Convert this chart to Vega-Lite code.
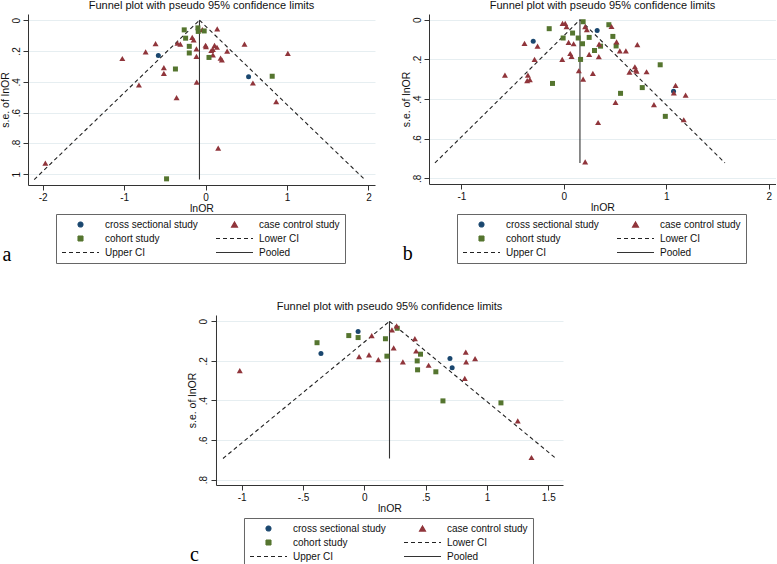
{
  "$schema": "https://vega.github.io/schema/vega-lite/v6.json",
  "background": "white",
  "padding": {"left": 0, "top": 0, "right": 0, "bottom": 0},
  "datasets": {
    "a_pts": [
      {"series": "case control study", "lnOR": 0.143, "se": 0.057},
      {"series": "case control study", "lnOR": -0.04, "se": 0.062},
      {"series": "case control study", "lnOR": -0.614, "se": 0.152},
      {"series": "case control study", "lnOR": -0.345, "se": 0.15},
      {"series": "case control study", "lnOR": -0.31, "se": 0.156},
      {"series": "case control study", "lnOR": -0.164, "se": 0.112},
      {"series": "case control study", "lnOR": -0.146, "se": 0.128},
      {"series": "case control study", "lnOR": -0.112, "se": 0.187},
      {"series": "case control study", "lnOR": -0.112, "se": 0.235},
      {"series": "case control study", "lnOR": 0.0, "se": 0.163},
      {"series": "case control study", "lnOR": 0.005, "se": 0.172},
      {"series": "case control study", "lnOR": 0.11, "se": 0.164},
      {"series": "case control study", "lnOR": 0.14, "se": 0.176},
      {"series": "case control study", "lnOR": 0.09, "se": 0.19},
      {"series": "case control study", "lnOR": 0.07, "se": 0.197},
      {"series": "case control study", "lnOR": 0.09, "se": 0.225},
      {"series": "case control study", "lnOR": 0.184, "se": 0.247},
      {"series": "case control study", "lnOR": 0.2, "se": 0.258},
      {"series": "case control study", "lnOR": 0.265, "se": 0.201},
      {"series": "case control study", "lnOR": 0.478, "se": 0.156},
      {"series": "case control study", "lnOR": 1.01, "se": 0.215},
      {"series": "case control study", "lnOR": -0.736, "se": 0.206},
      {"series": "case control study", "lnOR": -1.022, "se": 0.249},
      {"series": "case control study", "lnOR": -0.512, "se": 0.308},
      {"series": "case control study", "lnOR": -0.512, "se": 0.346},
      {"series": "case control study", "lnOR": -0.818, "se": 0.421},
      {"series": "case control study", "lnOR": -0.109, "se": 0.402},
      {"series": "case control study", "lnOR": -0.356, "se": 0.503},
      {"series": "case control study", "lnOR": 0.581, "se": 0.408},
      {"series": "case control study", "lnOR": 0.867, "se": 0.529},
      {"series": "case control study", "lnOR": 0.155, "se": 0.831},
      {"series": "case control study", "lnOR": -1.967, "se": 0.928},
      {"series": "cohort study", "lnOR": -0.262, "se": 0.063},
      {"series": "cohort study", "lnOR": -0.094, "se": 0.05},
      {"series": "cohort study", "lnOR": -0.09, "se": 0.073},
      {"series": "cohort study", "lnOR": -0.017, "se": 0.07},
      {"series": "cohort study", "lnOR": -0.245, "se": 0.117},
      {"series": "cohort study", "lnOR": -0.2, "se": 0.17},
      {"series": "cohort study", "lnOR": -0.2, "se": 0.213},
      {"series": "cohort study", "lnOR": 0.042, "se": 0.242},
      {"series": "cohort study", "lnOR": -0.37, "se": 0.317},
      {"series": "cohort study", "lnOR": 0.818, "se": 0.364},
      {"series": "cohort study", "lnOR": -0.479, "se": 1.03},
      {"series": "cross sectional study", "lnOR": -0.58, "se": 0.229},
      {"series": "cross sectional study", "lnOR": 0.528, "se": 0.368}
    ],
    "a_lines": [
      {"series": "Lower CI", "lnOR": -0.075, "se": 0},
      {"series": "Lower CI", "lnOR": -2.104, "se": 1.035},
      {"series": "Upper CI", "lnOR": -0.075, "se": 0},
      {"series": "Upper CI", "lnOR": 1.954, "se": 1.035},
      {"series": "Pooled", "lnOR": -0.075, "se": 0},
      {"series": "Pooled", "lnOR": -0.075, "se": 1.035}
    ],
    "b_pts": [
      {"series": "cross sectional study", "lnOR": -0.299, "se": 0.109},
      {"series": "cross sectional study", "lnOR": 0.325, "se": 0.054},
      {"series": "cross sectional study", "lnOR": 1.07, "se": 0.361},
      {"series": "cohort study", "lnOR": -0.143, "se": 0.045},
      {"series": "cohort study", "lnOR": 0.188, "se": 0.01},
      {"series": "cohort study", "lnOR": 0.439, "se": 0.025},
      {"series": "cohort study", "lnOR": -0.007, "se": 0.092},
      {"series": "cohort study", "lnOR": 0.085, "se": 0.067},
      {"series": "cohort study", "lnOR": 0.14, "se": 0.092},
      {"series": "cohort study", "lnOR": 0.182, "se": 0.121},
      {"series": "cohort study", "lnOR": 0.247, "se": 0.089},
      {"series": "cohort study", "lnOR": 0.478, "se": 0.084},
      {"series": "cohort study", "lnOR": 0.358, "se": 0.133},
      {"series": "cohort study", "lnOR": 0.299, "se": 0.155},
      {"series": "cohort study", "lnOR": 0.51, "se": 0.132},
      {"series": "cohort study", "lnOR": 0.163, "se": 0.2},
      {"series": "cohort study", "lnOR": -0.111, "se": 0.321},
      {"series": "cohort study", "lnOR": 0.94, "se": 0.227},
      {"series": "cohort study", "lnOR": 0.553, "se": 0.371},
      {"series": "cohort study", "lnOR": 0.765, "se": 0.342},
      {"series": "cohort study", "lnOR": 0.99, "se": 0.487},
      {"series": "case control study", "lnOR": -0.013, "se": 0.018},
      {"series": "case control study", "lnOR": 0.013, "se": 0.018},
      {"series": "case control study", "lnOR": 0.026, "se": 0.035},
      {"series": "case control study", "lnOR": 0.208, "se": 0.035},
      {"series": "case control study", "lnOR": 0.224, "se": 0.05},
      {"series": "case control study", "lnOR": 0.465, "se": 0.034},
      {"series": "case control study", "lnOR": -0.384, "se": 0.119},
      {"series": "case control study", "lnOR": -0.257, "se": 0.133},
      {"series": "case control study", "lnOR": 0.046, "se": 0.114},
      {"series": "case control study", "lnOR": 0.095, "se": 0.121},
      {"series": "case control study", "lnOR": -0.286, "se": 0.2},
      {"series": "case control study", "lnOR": -0.016, "se": 0.2},
      {"series": "case control study", "lnOR": 0.062, "se": 0.17},
      {"series": "case control study", "lnOR": 0.075, "se": 0.185},
      {"series": "case control study", "lnOR": 0.247, "se": 0.175},
      {"series": "case control study", "lnOR": 0.341, "se": 0.186},
      {"series": "case control study", "lnOR": 0.344, "se": 0.123},
      {"series": "case control study", "lnOR": 0.514, "se": 0.112},
      {"series": "case control study", "lnOR": 0.546, "se": 0.157},
      {"series": "case control study", "lnOR": 0.605, "se": 0.157},
      {"series": "case control study", "lnOR": 0.717, "se": 0.125},
      {"series": "case control study", "lnOR": -0.575, "se": 0.279},
      {"series": "case control study", "lnOR": -0.351, "se": 0.279},
      {"series": "case control study", "lnOR": -0.332, "se": 0.302},
      {"series": "case control study", "lnOR": -0.358, "se": 0.307},
      {"series": "case control study", "lnOR": 0.146, "se": 0.257},
      {"series": "case control study", "lnOR": 0.283, "se": 0.27},
      {"series": "case control study", "lnOR": 0.188, "se": 0.299},
      {"series": "case control study", "lnOR": 0.64, "se": 0.264},
      {"series": "case control study", "lnOR": 0.693, "se": 0.237},
      {"series": "case control study", "lnOR": 0.702, "se": 0.252},
      {"series": "case control study", "lnOR": 0.709, "se": 0.259},
      {"series": "case control study", "lnOR": 0.807, "se": 0.262},
      {"series": "case control study", "lnOR": 0.504, "se": 0.417},
      {"series": "case control study", "lnOR": 1.073, "se": 0.369},
      {"series": "case control study", "lnOR": 1.09, "se": 0.331},
      {"series": "case control study", "lnOR": 1.188, "se": 0.38},
      {"series": "case control study", "lnOR": 0.879, "se": 0.428},
      {"series": "case control study", "lnOR": 0.334, "se": 0.518},
      {"series": "case control study", "lnOR": 1.17, "se": 0.504},
      {"series": "case control study", "lnOR": 0.208, "se": 0.716}
    ],
    "b_lines": [
      {"series": "Lower CI", "lnOR": 0.157, "se": 0},
      {"series": "Lower CI", "lnOR": -1.258, "se": 0.722},
      {"series": "Upper CI", "lnOR": 0.157, "se": 0},
      {"series": "Upper CI", "lnOR": 1.572, "se": 0.722},
      {"series": "Pooled", "lnOR": 0.157, "se": 0},
      {"series": "Pooled", "lnOR": 0.157, "se": 0.722}
    ],
    "c_pts": [
      {"series": "cross sectional study", "lnOR": -0.051, "se": 0.052},
      {"series": "cross sectional study", "lnOR": -0.354, "se": 0.163},
      {"series": "cross sectional study", "lnOR": 0.698, "se": 0.188},
      {"series": "cross sectional study", "lnOR": 0.716, "se": 0.234},
      {"series": "cohort study", "lnOR": -0.386, "se": 0.108},
      {"series": "cohort study", "lnOR": -0.127, "se": 0.072},
      {"series": "cohort study", "lnOR": -0.051, "se": 0.082},
      {"series": "cohort study", "lnOR": 0.172, "se": 0.088},
      {"series": "cohort study", "lnOR": 0.184, "se": 0.176},
      {"series": "cohort study", "lnOR": 0.268, "se": 0.035},
      {"series": "cohort study", "lnOR": 0.458, "se": 0.166},
      {"series": "cohort study", "lnOR": 0.431, "se": 0.2},
      {"series": "cohort study", "lnOR": 0.434, "se": 0.245},
      {"series": "cohort study", "lnOR": 0.583, "se": 0.255},
      {"series": "cohort study", "lnOR": 0.641, "se": 0.402},
      {"series": "cohort study", "lnOR": 1.114, "se": 0.412},
      {"series": "case control study", "lnOR": -1.016, "se": 0.249},
      {"series": "case control study", "lnOR": 0.06, "se": 0.072},
      {"series": "case control study", "lnOR": 0.225, "se": 0.043},
      {"series": "case control study", "lnOR": 0.263, "se": 0.023},
      {"series": "case control study", "lnOR": -0.043, "se": 0.178},
      {"series": "case control study", "lnOR": 0.038, "se": 0.169},
      {"series": "case control study", "lnOR": 0.114, "se": 0.193},
      {"series": "case control study", "lnOR": 0.239, "se": 0.134},
      {"series": "case control study", "lnOR": 0.314, "se": 0.205},
      {"series": "case control study", "lnOR": 0.412, "se": 0.087},
      {"series": "case control study", "lnOR": 0.422, "se": 0.15},
      {"series": "case control study", "lnOR": 0.524, "se": 0.222},
      {"series": "case control study", "lnOR": 0.827, "se": 0.156},
      {"series": "case control study", "lnOR": 0.83, "se": 0.205},
      {"series": "case control study", "lnOR": 0.903, "se": 0.188},
      {"series": "case control study", "lnOR": 0.819, "se": 0.288},
      {"series": "case control study", "lnOR": 1.251, "se": 0.503},
      {"series": "case control study", "lnOR": 1.363, "se": 0.688}
    ],
    "c_lines": [
      {"series": "Lower CI", "lnOR": 0.205, "se": 0},
      {"series": "Lower CI", "lnOR": -1.153, "se": 0.693},
      {"series": "Upper CI", "lnOR": 0.205, "se": 0},
      {"series": "Upper CI", "lnOR": 1.563, "se": 0.693},
      {"series": "Pooled", "lnOR": 0.205, "se": 0},
      {"series": "Pooled", "lnOR": 0.205, "se": 0.693}
    ],
    "lab_a": [{"label": "a"}],
    "lab_b": [{"label": "b"}],
    "lab_c": [{"label": "c"}]
  },
  "resolve": {
    "scale": {"color": "independent", "shape": "independent", "size": "independent", "strokeDash": "independent"},
    "legend": {"color": "independent", "shape": "independent", "size": "independent", "strokeDash": "independent"}
  },
  "spacing": 35,
  "center": true,
  "vconcat": [
    {
      "spacing": 26,
      "resolve": {
        "scale": {"color": "independent", "shape": "independent", "size": "independent", "strokeDash": "independent"},
        "legend": {"color": "independent", "shape": "independent", "size": "independent", "strokeDash": "independent"}
      },
      "hconcat": [
        {
          "width": 347,
          "height": 171,
          "title": "Funnel plot with pseudo 95% confidence limits",
          "layer": [
            {
              "data": {"name": "a_lines"},
              "mark": {"type": "line", "strokeWidth": 1.1},
              "encoding": {
                "x": {"field": "lnOR", "type": "quantitative", "scale": {"domain": [-2.18, 2.08], "nice": false, "zero": false}, "axis": {"values": [-2, -1, 0, 1, 2], "tickCount": 20, "title": "lnOR", "labelOverlap": false}},
                "y": {"field": "se", "type": "quantitative", "scale": {"domain": [-0.04, 1.07], "reverse": true, "nice": false, "zero": false}, "axis": {"values": [0, 0.2, 0.4, 0.6, 0.8, 1], "tickCount": 20, "title": "s.e. of lnOR", "labelOverlap": false}},
                "detail": {"field": "series"},
                "color": {"field": "series", "type": "nominal", "scale": {"domain": ["cross sectional study", "case control study", "cohort study", "Lower CI", "Upper CI", "Pooled"], "range": ["#1a476f", "#90353b", "#55752f", "#222222", "#222222", "#333333"]}, "legend": {"title": null, "orient": "none", "legendX": 28, "legendY": 200}},
                "strokeDash": {"field": "series", "type": "nominal", "scale": {"domain": ["cross sectional study", "case control study", "cohort study", "Lower CI", "Upper CI", "Pooled"], "range": [[1, 0], [1, 0], [1, 0], [4, 3], [4, 3], [1, 0]]}, "legend": {"title": null}}
              }
            },
            {
              "data": {"name": "a_pts"},
              "mark": {"type": "point", "filled": true, "opacity": 1},
              "encoding": {
                "x": {"field": "lnOR", "type": "quantitative"},
                "y": {"field": "se", "type": "quantitative"},
                "color": {"field": "series", "type": "nominal", "legend": {"title": null, "orient": "none", "legendX": 28, "legendY": 200}},
                "shape": {"field": "series", "type": "nominal", "scale": {"domain": ["cross sectional study", "case control study", "cohort study", "Lower CI", "Upper CI", "Pooled"], "range": ["circle", "triangle-up", "square", "stroke", "stroke", "stroke"]}, "legend": {"title": null}},
                "size": {"field": "series", "type": "nominal", "scale": {"type": "ordinal", "domain": ["cross sectional study", "case control study", "cohort study", "Lower CI", "Upper CI", "Pooled"], "range": [25, 36, 25, 1369, 1369, 1369]}, "legend": {"title": null}}
              }
            },
            {
              "data": {"name": "lab_a"},
              "mark": {"type": "text", "font": "Liberation Serif", "fontSize": 20, "align": "center", "baseline": "middle", "color": "#000"},
              "encoding": {"text": {"field": "label"}, "x": {"datum": -2.438}, "y": {"datum": 1.526}}
            }
          ]
        },
        {
          "width": 347,
          "height": 170,
          "title": "Funnel plot with pseudo 95% confidence limits",
          "layer": [
            {
              "data": {"name": "b_lines"},
              "mark": {"type": "line", "strokeWidth": 1.1},
              "encoding": {
                "x": {"field": "lnOR", "type": "quantitative", "scale": {"domain": [-1.316, 2.07], "nice": false, "zero": false}, "axis": {"values": [-1, 0, 1, 2], "tickCount": 20, "title": "lnOR", "labelOverlap": false}},
                "y": {"field": "se", "type": "quantitative", "scale": {"domain": [-0.029, 0.828], "reverse": true, "nice": false, "zero": false}, "axis": {"values": [0, 0.2, 0.4, 0.6, 0.8], "tickCount": 20, "title": "s.e. of lnOR", "labelOverlap": false}},
                "detail": {"field": "series"},
                "color": {"field": "series", "type": "nominal", "scale": {"domain": ["cross sectional study", "case control study", "cohort study", "Lower CI", "Upper CI", "Pooled"], "range": ["#1a476f", "#90353b", "#55752f", "#222222", "#222222", "#333333"]}, "legend": {"title": null, "orient": "none", "legendX": 28, "legendY": 200}},
                "strokeDash": {"field": "series", "type": "nominal", "scale": {"domain": ["cross sectional study", "case control study", "cohort study", "Lower CI", "Upper CI", "Pooled"], "range": [[1, 0], [1, 0], [1, 0], [4, 3], [4, 3], [1, 0]]}, "legend": {"title": null}}
              }
            },
            {
              "data": {"name": "b_pts"},
              "mark": {"type": "point", "filled": true, "opacity": 1},
              "encoding": {
                "x": {"field": "lnOR", "type": "quantitative"},
                "y": {"field": "se", "type": "quantitative"},
                "color": {"field": "series", "type": "nominal", "legend": {"title": null, "orient": "none", "legendX": 28, "legendY": 200}},
                "shape": {"field": "series", "type": "nominal", "scale": {"domain": ["cross sectional study", "case control study", "cohort study", "Lower CI", "Upper CI", "Pooled"], "range": ["circle", "triangle-up", "square", "stroke", "stroke", "stroke"]}, "legend": {"title": null}},
                "size": {"field": "series", "type": "nominal", "scale": {"type": "ordinal", "domain": ["cross sectional study", "case control study", "cohort study", "Lower CI", "Upper CI", "Pooled"], "range": [25, 36, 25, 1369, 1369, 1369]}, "legend": {"title": null}}
              }
            },
            {
              "data": {"name": "lab_b"},
              "mark": {"type": "text", "font": "Liberation Serif", "fontSize": 20, "align": "center", "baseline": "middle", "color": "#000"},
              "encoding": {"text": {"field": "label"}, "x": {"datum": -1.524}, "y": {"datum": 1.18}}
            }
          ]
        }
      ]
    },
    {
      "width": 347,
      "height": 170,
      "title": "Funnel plot with pseudo 95% confidence limits",
      "layer": [
        {
          "data": {"name": "c_lines"},
          "mark": {"type": "line", "strokeWidth": 1.1},
          "encoding": {
            "x": {"field": "lnOR", "type": "quantitative", "scale": {"domain": [-1.21, 1.62], "nice": false, "zero": false}, "axis": {"values": [-1, -0.5, 0, 0.5, 1, 1.5], "tickCount": 20, "title": "lnOR", "labelOverlap": false}},
            "y": {"field": "se", "type": "quantitative", "scale": {"domain": [-0.032, 0.827], "reverse": true, "nice": false, "zero": false}, "axis": {"values": [0, 0.2, 0.4, 0.6, 0.8], "tickCount": 20, "title": "s.e. of lnOR", "labelOverlap": false}},
            "detail": {"field": "series"},
            "color": {"field": "series", "type": "nominal", "scale": {"domain": ["cross sectional study", "case control study", "cohort study", "Lower CI", "Upper CI", "Pooled"], "range": ["#1a476f", "#90353b", "#55752f", "#222222", "#222222", "#333333"]}, "legend": {"title": null, "orient": "none", "legendX": 28, "legendY": 203}},
            "strokeDash": {"field": "series", "type": "nominal", "scale": {"domain": ["cross sectional study", "case control study", "cohort study", "Lower CI", "Upper CI", "Pooled"], "range": [[1, 0], [1, 0], [1, 0], [4, 3], [4, 3], [1, 0]]}, "legend": {"title": null}}
          }
        },
        {
          "data": {"name": "c_pts"},
          "mark": {"type": "point", "filled": true, "opacity": 1},
          "encoding": {
            "x": {"field": "lnOR", "type": "quantitative"},
            "y": {"field": "se", "type": "quantitative"},
            "color": {"field": "series", "type": "nominal", "legend": {"title": null, "orient": "none", "legendX": 28, "legendY": 203}},
            "shape": {"field": "series", "type": "nominal", "scale": {"domain": ["cross sectional study", "case control study", "cohort study", "Lower CI", "Upper CI", "Pooled"], "range": ["circle", "triangle-up", "square", "stroke", "stroke", "stroke"]}, "legend": {"title": null}},
            "size": {"field": "series", "type": "nominal", "scale": {"type": "ordinal", "domain": ["cross sectional study", "case control study", "cohort study", "Lower CI", "Upper CI", "Pooled"], "range": [25, 36, 25, 1369, 1369, 1369]}, "legend": {"title": null}}
          }
        },
        {
          "data": {"name": "lab_c"},
          "mark": {"type": "text", "font": "Liberation Serif", "fontSize": 20, "align": "center", "baseline": "middle", "color": "#000"},
          "encoding": {"text": {"field": "label"}, "x": {"datum": -1.386}, "y": {"datum": 1.18}}
        },
        {
          "data": {"values": [{}]},
          "mark": {"type": "text", "text": " ", "opacity": 0},
          "encoding": {"x": {"datum": 1.824}, "y": {"datum": 0.4}}
        }
      ]
    }
  ],
  "config": {
    "view": {"stroke": null},
    "font": "Liberation Sans",
    "title": {"fontSize": 11, "fontWeight": "normal", "font": "Liberation Sans", "color": "#111", "offset": 3},
    "axis": {
      "labelFont": "Liberation Sans", "labelFontSize": 10, "labelColor": "#111",
      "titleFont": "Liberation Sans", "titleFontSize": 10.5, "titleFontWeight": "normal", "titleColor": "#111",
      "domainColor": "#333", "tickColor": "#333", "tickSize": 5, "grid": false, "labelOverlap": false,
      "labelExpr": "replace(replace(format(datum.value, '~g'), '−', '-'), regexp('^(-?)0[.]'), '$1.')"
    },
    "axisX": {"labelPadding": 2, "titlePadding": 1},
    "axisY": {"grid": true, "gridColor": "#e6eef1", "labelAngle": 270, "labelPadding": 2, "titlePadding": 1},
    "legend": {
      "columns": 2, "direction": "horizontal", "labelFont": "Liberation Sans", "labelFontSize": 10, "labelColor": "#111",
      "padding": 5, "strokeColor": "#666", "fillColor": "white", "rowPadding": 3, "columnPadding": 17,
      "labelOffset": 5, "clipHeight": 11, "symbolStrokeWidth": 1.1, "symbolOpacity": 1, "gridAlign": "each"
    }
  }
}
